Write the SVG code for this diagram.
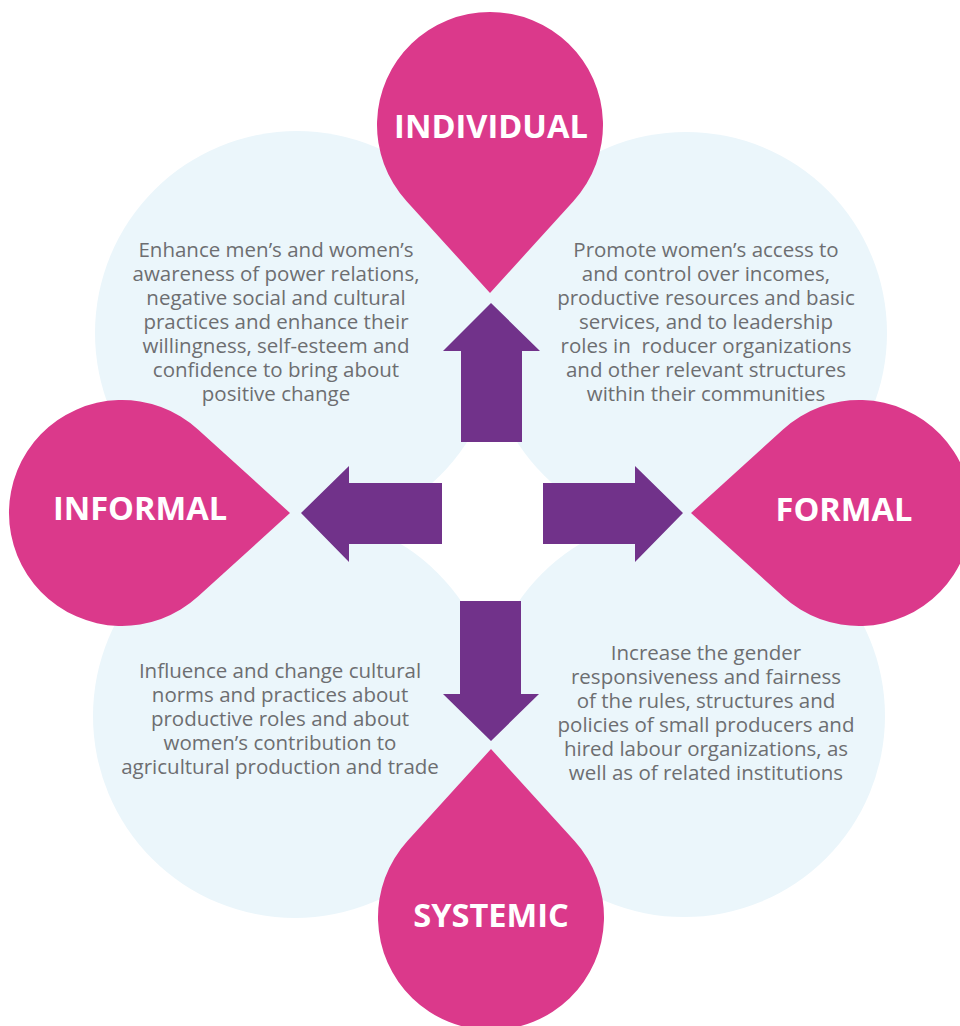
<svg xmlns="http://www.w3.org/2000/svg" width="960" height="1026" viewBox="0 0 960 1026">
<style>
.bg{fill:#EBF6FB}
.drop{fill:#DB398B}
.arrow{fill:#71328A}
.lbl{font-family:"Open Sans","Liberation Sans",sans-serif;font-weight:700;font-size:32.6px;fill:#FFFFFF;text-anchor:middle}
.txt{font-family:"Open Sans","Liberation Sans",sans-serif;font-size:20.5px;fill:#6D6E71;text-anchor:middle}
</style>
<defs>
<path id="drop" d="M0 168 L-83.6 76 A113 113 0 1 1 83.6 76 Z"/>
</defs>
<rect width="960" height="1026" fill="#FFFFFF"/>
<g id="circles">
<circle class="bg" cx="297" cy="333" r="202"/>
<circle class="bg" cx="686" cy="333" r="201"/>
<circle class="bg" cx="295" cy="716" r="202"/>
<circle class="bg" cx="684" cy="716" r="201"/>
</g>
<g id="connectors">
<polygon class="arrow" points="491,303 540,351 522,351 522,442 461,442 461,351 443,351"/>
<polygon class="arrow" points="301,513 349,466 349,483 442,483 442,544 349,544 349,562"/>
<polygon class="arrow" points="683,513 635,466 635,483 543,483 543,544 635,544 635,562"/>
<polygon class="arrow" points="491,741 539,694 521,694 521,601 460,601 460,694 443,694"/>
</g>
<g id="node-individual">
<use href="#drop" class="drop" transform="translate(490,125)"/>
<text class="lbl" x="491" y="138">INDIVIDUAL</text>
</g>
<g id="node-informal">
<use href="#drop" class="drop" transform="translate(122,513) rotate(-90)"/>
<text class="lbl" x="140" y="520">INFORMAL</text>
</g>
<g id="node-formal">
<use href="#drop" class="drop" transform="translate(859,513) rotate(90)"/>
<text class="lbl" x="844" y="521">FORMAL</text>
</g>
<g id="node-systemic">
<use href="#drop" class="drop" transform="translate(491,917) rotate(180)"/>
<text class="lbl" x="491" y="927">SYSTEMIC</text>
</g>
<g id="text-individual-informal">
<text class="txt" x="276" y="257">Enhance men’s and women’s</text>
<text class="txt" x="276" y="281">awareness of power relations,</text>
<text class="txt" x="276" y="305">negative social and cultural</text>
<text class="txt" x="276" y="329">practices and enhance their</text>
<text class="txt" x="276" y="353">willingness, self-esteem and</text>
<text class="txt" x="276" y="377">confidence to bring about</text>
<text class="txt" x="276" y="401">positive change</text>
</g>
<g id="text-individual-formal">
<text class="txt" x="706" y="257">Promote women’s access to</text>
<text class="txt" x="706" y="281">and control over incomes,</text>
<text class="txt" x="706" y="305">productive resources and basic</text>
<text class="txt" x="706" y="329">services, and to leadership</text>
<text class="txt" x="706" y="353" xml:space="preserve">roles in  roducer organizations</text>
<text class="txt" x="706" y="377">and other relevant structures</text>
<text class="txt" x="706" y="401">within their communities</text>
</g>
<g id="text-systemic-informal">
<text class="txt" x="280" y="678">Influence and change cultural</text>
<text class="txt" x="280" y="702">norms and practices about</text>
<text class="txt" x="280" y="726">productive roles and about</text>
<text class="txt" x="280" y="750">women’s contribution to</text>
<text class="txt" x="280" y="774">agricultural production and trade</text>
</g>
<g id="text-systemic-formal">
<text class="txt" x="706" y="660">Increase the gender</text>
<text class="txt" x="706" y="684">responsiveness and fairness</text>
<text class="txt" x="706" y="708">of the rules, structures and</text>
<text class="txt" x="706" y="732">policies of small producers and</text>
<text class="txt" x="706" y="756">hired labour organizations, as</text>
<text class="txt" x="706" y="780">well as of related institutions</text>
</g>
</svg>
